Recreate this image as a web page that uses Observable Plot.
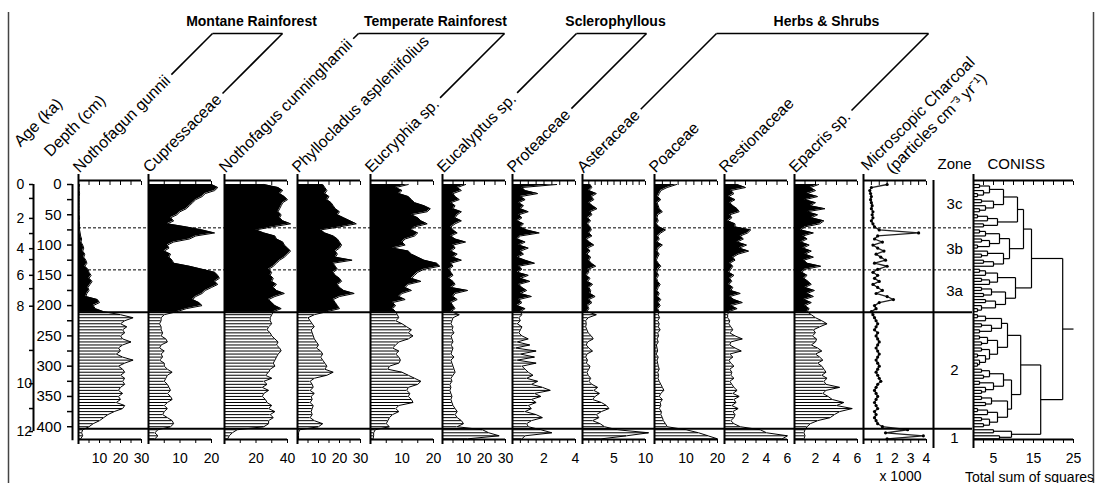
<!DOCTYPE html>
<html>
<head>
<meta charset="utf-8">
<script src="https://cdn.jsdelivr.net/npm/d3@7"></script>
<script src="https://cdn.jsdelivr.net/npm/@observablehq/plot@0.6"></script>
<style>
  html, body { margin: 0; padding: 0; background: #fff; overflow: hidden; }
  #fig { position: relative; width: 1096px; height: 483px; overflow: hidden; background: #fff; }
  #fig svg { position: absolute; top: 0; overflow: visible; }
</style>
</head>
<body>
<div id="fig"></div>
<script>
// ---------------- DATA ----------------
const depths = [0,5,10,15,20,25,30,35,40,45,50,55,60,65,70,75,80,85,90,95,100,105,110,115,120,125,130,135,140,145,150,155,160,165,170,175,180,185,190,195,200,205,210,215,220,225,230,235,240,245,250,255,260,265,270,275,280,285,290,295,300,305,310,315,320,325,330,335,340,345,350,355,360,365,370,375,380,385,390,395,400,405,410,415,420];

const nothofagusGunnii = [0.5,0.3,0.3,0.5,0.3,0.3,0.3,0.3,0.3,0.3, 0.3,0.5,0.3,0.5,0.5,0.5,0.8,1,1.5,1.2, 2,2.5,2,3,2.5,3.5,4,3,4.5,5, 6,5,6.5,5.5,4.5,5,4,3.5,9,10, 7,8,12,20,26,22,20,23,21,22, 20,21,25,21,19,20,18,21,26,22, 19,21,22,20,22,21,22,20,19,21, 19,20,18,22,21,17,14,12,10,7, 5,2,1.5,2,1];
const cupressaceae = [20,22,21,18,17,15,14,13,12,10, 9,7,8,6,12,17,21,15,13,8, 6,6.5,5,7,6.5,7.5,8,13,17,21, 22,22.5,21,22,20,18,17,15,14,16, 17,12,9,5,4,4,3.5,4,4,4.5, 4,5.5,6,4,3.5,5,4,4.5,3.5,5, 5,6,7.5,6,5.5,5,6,6.5,7,6, 7,7.5,6,5,6,5,4.5,6,7.5,8, 7,3,2,3,2];
const nothofagusCunninghamii = [25,34,37,35,38,40,37,36,35,34, 36,35,37,42,30,20,25,32,33,37, 38,40,42,40,38,35,33,31,28,30, 29,31,30,33,31,33,38,32,28,30, 32,36,31,30,29,29,30,28,27,29, 30,32,34,33,35,36,34,33,32,31, 32,29,28,26,30,25,27,24,28,25, 24,26,27,30,28,32,29,31,28,28, 25,8,5,3,2];
const phyllocladus = [12,13,14,13,15,14,16,17,18,20, 19,22,25,28,20,11,13,17,19,20, 21,20,18,19,18,26,17,18,19,17, 18,20,21,19,20,22,27,20,17,18, 19,20,14,8,5,6,7,8,6.5,7, 7.5,8,9,10,9,11,12,11,12,13, 14,13,17,14,8,6,7,7.5,6,8, 6.5,7,6,7.5,7,6.5,7,6,8,12, 10,1,0.5,0.5,0.5];
const eucryphia = [12,8,10,9,12,13,14,17,19,18, 13,15,16,18,14,13,15,14,11,10, 11,7,12,13,15,17,21,22,17,15, 14,13,16,12,11,13,10,9,11,7, 8,7,8,8.5,9,8,10,11.5,13,12, 13.5,12,9,8,7,9,8,9,9.5,9, 6,5.5,10,12,14,16,15,12,11.5,12.5, 12,13,13.5,9,8,9,7,6,5.5,5, 6,1.5,1,1,0.8];
const eucalyptus = [11,7,9,5,6,8,4,6,5,9, 7,6,9,6,4,5,7,4,6,11, 5,6,4,7,5,9,4,5,3,4, 5,3,5,6,4,12,6,5,7,4, 5,6,4,8,5,4.5,4,5,4.5,5.5, 4,4.5,5,4,5,4.5,4,5.5,4,4.5, 5,5.5,6,5,4,4.5,3.5,4,3.5,4, 4.5,4,4.5,5,6,7,6,7,9,10, 7,19,22,27,12];
const proteaceae = [2.8,0.6,0.8,1.6,0.5,0.8,0.4,0.7,0.5,1.0, 0.4,0.6,0.3,0.7,0.5,0.9,1.7,0.5,0.3,0.8, 0.4,1.0,0.5,0.7,0.3,0.8,1.4,0.4,0.6,0.3, 1.0,0.5,1.1,0.4,0.6,0.9,0.5,1.2,0.4,0.6, 0.3,0.8,0.5,0.6,0.4,0.5,0.3,0.6,0.5,0.4, 0.6,1.0,0.3,1.1,0.2,1.5,0.5,1.4,0.3,1.5, 0.6,0.8,1.0,1.3,0.9,1.6,1.2,1.9,2.4,1.4, 1.8,1.2,1.5,1.0,1.2,0.8,1.5,1.9,1.2,0.9, 1.0,1.8,2.5,0.8,0.6];
const asteraceae = [1.2,1.5,1.0,2.2,1.4,1.8,1.0,1.6,2.3,1.2, 1.5,0.8,1.3,0.8,1.2,1.4,1.0,1.5,0.6,1.1, 1.8,0.8,1.2,0.7,1.3,1.0,1.4,2.1,0.9,1.0, 0.6,1.2,0.8,1.6,1.0,1.3,1.2,2.0,1.0,1.5, 0.8,1.0,0.7,2.2,0.9,0.5,0.6,0.5,0.7,0.9, 1.4,1.7,0.8,0.6,1.0,1.6,0.7,0.5,0.8,0.6, 1.2,1.0,0.7,0.9,1.3,1.0,1.5,2.4,1.8,2.7, 2.0,1.6,3.0,3.8,4.2,3.0,2.2,2.6,1.6,2.8, 3.5,5.5,10.5,7,3];
const poaceae = [7,4,2,1.5,1,2,0.8,1.2,1.5,2.5, 1,0.8,1.2,0.6,1.5,3.5,2,1,1.5,0.8, 2.5,1.2,0.8,1.5,1.0,0.6,1.2,2.0,1.0,0.8, 1.3,0.7,1.0,1.8,1.2,0.8,1.5,1.0,2.0,1.2, 1.8,1.0,1.5,1.2,1.6,1.0,1.5,1.2,1.8,1.0, 1.3,0.8,1.2,0.6,0.8,1.0,0.5,1.2,0.8,1.0, 1.2,1.5,1.0,1.3,1.1,1.5,2.0,2.5,3.0,2.0, 1.5,2.5,1.8,2.0,1.5,2.2,2.0,2.5,2.8,3.5, 4,10,14,17,20];
const restionaceae = [1.2,2.0,0.6,0.9,0.4,1.0,0.5,0.8,1.2,1.4, 0.5,0.7,0.3,1.0,1.0,2.5,2.2,1.5,1.8,1.2, 2.1,1.4,2.3,1.3,0.8,1.0,0.5,0.8,0.6,0.4, 0.9,0.5,0.7,0.4,0.8,0.6,1.5,0.5,0.9,1.7, 0.6,1.2,0.4,0.3,0.3,0.5,0.4,0.6,0.8,0.5, 1.0,1.7,0.6,0.5,1.0,1.6,0.5,0.8,0.4,0.6, 0.9,0.5,0.7,0.6,0.9,0.5,0.7,0.9,1.2,0.8, 1.4,0.9,1.1,0.7,1.3,0.8,1.0,0.9,0.6,0.9, 1.5,3.4,4.0,6.0,5.5];
const epacris = [2.3,1.5,2.0,1.2,2.2,1.0,2.0,1.5,2.9,1.2, 2.2,1.6,2.8,2.4,1.0,0.6,1.8,0.8,1.2,0.6, 1.4,0.8,1.6,1.0,1.8,0.9,1.2,2.5,1.0,0.7, 1.2,0.9,1.3,1.6,1.0,1.9,1.2,1.8,0.9,1.6, 1.0,1.4,1.2,1.6,2.0,2.6,3.1,2.4,1.8,2.0, 1.7,2.1,2.0,1.6,2.2,2.6,2.0,2.4,2.7,2.2, 2.6,2.8,3.0,2.6,3.1,2.8,3.0,4.3,3.0,2.7, 3.2,3.6,4.7,4.0,5.5,4.3,3.8,3.4,2.2,1.5, 1.2,1.0,0.9,1.0,0.9];
// Microscopic charcoal (x 1000 particles cm-3 yr-1)
const charcoal = [1.5,0.5,0.4,0.45,0.5,0.45,0.5,0.55,0.5,0.6, 0.55,0.6,0.5,0.6,0.7,1.0,3.5,0.9,0.7,1.2, 0.6,0.9,1.3,0.8,1.1,1.4,0.7,1.5,0.9,0.6, 0.9,0.7,1.0,0.6,0.9,1.2,0.8,1.5,1.9,1.0, 0.7,0.8,0.5,0.6,0.7,0.8,0.9,0.8,0.7,0.9, 0.8,0.9,1.0,0.9,0.8,0.9,1.0,0.9,0.8,0.9, 1.0,0.9,0.8,0.9,1.0,1.1,0.9,0.8,0.7,0.8, 0.9,0.8,0.7,0.8,0.9,0.7,0.8,0.7,0.8,0.9, 1.2,2.8,1.4,3.8,1.5];

const taxaNames = ["Nothofagun gunnii","Cupressaceae","Nothofagus cunninghamii","Phyllocladus aspleniifolius","Eucryphia sp.","Eucalyptus sp.","Proteaceae","Asteraceae","Poaceae","Restionaceae","Epacris sp."];
const taxaValues = [nothofagusGunnii, cupressaceae, nothofagusCunninghamii, phyllocladus, eucryphia, eucalyptus, proteaceae, asteraceae, poaceae, restionaceae, epacris];
const taxaMax = [30,20,40,30,20,30,4,10,20,6,6];
const taxaTickLabels = [[10,20,30],[10,20],[20,40],[10,20,30],[10,20],[10,20,30],[2,4],[5,10],[10,20],[2,4,6],[2,4,6]];
const taxaMinorStep = [5,5,10,5,5,5,0.5,1,2.5,1,1];

const charcoalMax = 4;
const charcoalTickLabels = [1,2,3,4];

const groupNames = ["Montane Rainforest","Temperate Rainforest","Sclerophyllous","Herbs & Shrubs"];
const groupFirst = [0,2,5,7];
const groupLast = [1,4,6,10];

const zoneNames = ["3c","3b","3a","2","1"];
const zoneBoundaries = [71.6, 141, 211, 403.5];
const zoneBoundaryDashed = [true, true, false, false];

const ages = [0,1,2,3,4,5,6,7,8,9,10,11,12];
const ageDepths = [0,23,56,81,106,124,150,172,201,274,329,370,408];
const depthTickLabels = [0,50,100,150,200,250,300,350,400];
const depthMinorTicks = [0,25,50,75,100,125,150,175,200,225,250,275,300,325,350,375,400];

const conissMax = 25;
const conissTickLabels = [5,15,25];
// CONISS dendrogram: [total sum of squares at merge, child, child]; leaves are sample depths
const conissTree =
[22.3,
  [14.5,
    [12.5,
      [11,
        [7.5, [4, [1.5,0,5], [2.5,10,[1,15,20]]], [5, [2,25,30], [3,35,[1.5,40,45]]]],
        [6, [3.5,[1,50,55],60], [2.5,65,70]]
      ],
      [9,
        [6.5, [3,[1.5,75,80],85], [4,[2,90,95],[1,100,105]]],
        [7.5, [3.5,110,[2,115,120]], [5,[2.5,125,130],135]]
      ]
    ],
    [10.5,
      [6, [3,[1.5,140,145],150], [4,[2,155,160],165]],
      [8, [4.5,[2,170,175],[2.5,180,185]], [5.5,[3,190,195],[2,200,[1,205,210]]]]
    ]
  ],
  [16.8,
    [11.8,
      [8.5,
        [7, [3,[1,215,220],225], [4.5,[2,230,235],[1.5,240,245]]],
        [6, [3.5,[1.5,250,255],[2,260,265]], [4,[2,270,275],[3,[1,280,285],[1.5,290,[1,295,300]]]]]
      ],
      [9.5,
        [7.5, [4,[2,305,310],[2.5,315,320]], [5,[1.5,325,330],[3,335,[2,340,345]]]],
        [8.5, [4.5,[2,350,355],[3,360,365]], [6,[3.5,[1,370,375],380],[4,[2,385,390],[2.5,395,400]]]]
      ]
    ],
    [9.5, [5,405,410], [6.5,415,420]]
  ]
];

// ---------------- LAYOUT ----------------
const FONT = "'Liberation Sans', Arial, Helvetica, sans-serif";
const W = 1096, H = 483;
const FRAME_TOP = 180, FRAME_BOTTOM = 439;
const DEPTH_DOMAIN = [-6.6, 421.1];
const panelLeft = [78,148,224,297,370,442,512,582,654,724,794,863];
const panelWidth = 63;
const zoneLeft = 933, conissLeft = 973, conissWidth = 100;
const fig = document.getElementById("fig");

function add(svg, left) {
  svg.style.left = left + "px";
  svg.style.top = "0px";
  fig.appendChild(svg);
}
const yScale = () => ({domain: DEPTH_DOMAIN, reverse: true, axis: null});
const baseStyle = {fontFamily: FONT, fontSize: "14px", background: "transparent", overflow: "visible", color: "black"};

function frameMarks(max, step, labels, bottomExtend = 5) {
  const minor = d3.range(0, max + step / 2, step);
  return [
    Plot.ruleY([DEPTH_DOMAIN[0]], {stroke: "black", strokeWidth: 2}),
    Plot.ruleY([DEPTH_DOMAIN[1]], {stroke: "black", strokeWidth: 2}),
    Plot.ruleX([0], {stroke: "black", strokeWidth: 2, insetTop: -6, insetBottom: -bottomExtend}),
    Plot.axisX({ticks: minor, anchor: "top", tickSize: 4, dy: 4, tickFormat: () => "", label: null}),
    Plot.axisX({ticks: minor, anchor: "bottom", tickSize: 4, tickFormat: () => "", label: null}),
    Plot.axisX({ticks: labels, anchor: "bottom", tickSize: 0, tickPadding: 14, label: null, fontSize: 14, tickFormat: d => String(d)})
  ];
}

// ---------------- POLLEN PANELS ----------------
taxaNames.forEach((name, i) => {
  const rows = depths.map((d, j) => ({depth: d, value: taxaValues[i][j]}));
  const upper = rows.filter(r => r.depth <= 210);
  const lower = rows.filter(r => r.depth >= 210);
  const mL = 4, mR = 20;
  const svg = Plot.plot({
    width: panelWidth + mL + mR, height: H,
    marginLeft: mL, marginRight: mR, marginTop: FRAME_TOP, marginBottom: H - FRAME_BOTTOM,
    x: {domain: [0, taxaMax[i]]},
    y: yScale(),
    style: baseStyle,
    marks: [
      Plot.areaX(upper, {x: "value", y: "depth", fill: "black"}),
      Plot.ruleY(lower, {y: "depth", x1: 0, x2: "value", stroke: "black", strokeWidth: 1}),
      Plot.lineX(rows, {x: "value", y: "depth", stroke: "black", strokeWidth: 1}),
      ...frameMarks(taxaMax[i], taxaMinorStep[i], taxaTickLabels[i])
    ]
  });
  add(svg, panelLeft[i] - mL);
});

// ---------------- CHARCOAL ----------------
{
  const rows = depths.map((d, j) => ({depth: d, value: charcoal[j]}));
  const mL = 4, mR = 20;
  const svg = Plot.plot({
    width: panelWidth + mL + mR, height: H,
    marginLeft: mL, marginRight: mR, marginTop: FRAME_TOP, marginBottom: H - FRAME_BOTTOM,
    x: {domain: [0, charcoalMax]},
    y: yScale(),
    style: baseStyle,
    marks: [
      Plot.lineX(rows, {x: "value", y: "depth", stroke: "#222", strokeWidth: 1.3}),
      Plot.dot(rows, {x: "value", y: "depth", r: 1.6, fill: "black"}),
      ...frameMarks(charcoalMax, 0.5, charcoalTickLabels)
    ]
  });
  add(svg, panelLeft[11] - mL);
}

// ---------------- ZONE COLUMN ----------------
{
  const edges = [DEPTH_DOMAIN[0], ...zoneBoundaries, 436];
  const zoneRows = zoneNames.map((z, i) => ({zone: z, mid: (edges[i] + edges[i + 1]) / 2}));
  const svg = Plot.plot({
    width: 41, height: H,
    marginLeft: 1, marginRight: 0, marginTop: FRAME_TOP, marginBottom: H - FRAME_BOTTOM,
    x: {domain: [0, 1], axis: null},
    y: yScale(),
    style: baseStyle,
    marks: [
      Plot.ruleX([0], {stroke: "black", strokeWidth: 2, insetBottom: -9}),
      Plot.text(zoneRows, {x: 0.5, y: "mid", text: "zone", fontSize: 15, dx: 1})
    ]
  });
  add(svg, zoneLeft - 1);
}

// ---------------- CONISS ----------------
{
  const segs = [];
  function layout(node) {
    if (typeof node === "number") return {y: node, h: 0};
    const [h, a, b] = node;
    const A = layout(a), B = layout(b);
    segs.push({x1: A.h, x2: h, y1: A.y, y2: A.y});
    segs.push({x1: B.h, x2: h, y1: B.y, y2: B.y});
    segs.push({x1: h, x2: h, y1: A.y, y2: B.y});
    return {y: (A.y + B.y) / 2, h};
  }
  const root = layout(conissTree);
  segs.push({x1: root.h, x2: conissMax, y1: root.y, y2: root.y});
  const mL = 4, mR = 20;
  const svg = Plot.plot({
    width: conissWidth + mL + mR, height: H,
    marginLeft: mL, marginRight: mR, marginTop: FRAME_TOP, marginBottom: H - FRAME_BOTTOM,
    x: {domain: [0, conissMax]},
    y: yScale(),
    style: baseStyle,
    marks: [
      Plot.link(segs, {x1: "x1", y1: "y1", x2: "x2", y2: "y2", stroke: "black", strokeWidth: 1.2}),
      ...frameMarks(conissMax, 2.5, conissTickLabels, 9)
    ]
  });
  add(svg, conissLeft - mL);
}

// ---------------- ZONE BOUNDARY LINES ----------------
{
  const rows = zoneBoundaries.map((d, i) => ({depth: d, dashed: zoneBoundaryDashed[i]}));
  const svg = Plot.plot({
    width: conissLeft - 1 - panelLeft[0], height: H,
    marginLeft: 0, marginRight: 0, marginTop: FRAME_TOP, marginBottom: H - FRAME_BOTTOM,
    x: {domain: [0, 1], axis: null},
    y: yScale(),
    style: baseStyle,
    marks: [
      Plot.ruleY(rows.filter(r => !r.dashed), {y: "depth", stroke: "black", strokeWidth: 2}),
      Plot.ruleY(rows.filter(r => r.dashed), {y: "depth", stroke: "black", strokeWidth: 1, strokeDasharray: "3,2"})
    ]
  });
  add(svg, panelLeft[0]);
}

// ---------------- AGE & DEPTH AXES ----------------
{
  const ageRows = ages.map((a, i) => ({age: a, depth: ageDepths[i]}));
  const svg = Plot.plot({
    width: 76, height: H,
    marginLeft: 0, marginRight: 0, marginTop: FRAME_TOP, marginBottom: H - FRAME_BOTTOM,
    x: {type: "identity", axis: null},
    y: yScale(),
    style: {...baseStyle, fontSize: "15px"},
    marks: [
      Plot.ruleX([33], {y1: 0, y2: ageDepths[ageDepths.length - 1], stroke: "black", strokeWidth: 2}),
      Plot.ruleY(ageRows, {y: "depth", x1: 29, x2: 33, stroke: "black", strokeWidth: 1.5}),
      Plot.text(ageRows.filter(r => r.age % 2 === 0), {x: 16, y: "depth", text: "age", textAnchor: "start", fontSize: 14}),
      Plot.ruleX([72], {y1: 0, y2: 423, stroke: "black", strokeWidth: 2}),
      Plot.ruleY(depthMinorTicks, {y: d => d, x1: 67, x2: 72, stroke: "black", strokeWidth: 1.5}),
      Plot.text(depthTickLabels, {x: 61, y: d => d, text: d => d, textAnchor: "end", fontSize: 15})
    ]
  });
  add(svg, 0);
}

// ---------------- HEADERS & BRACKETS ----------------
{
  const ctx = document.createElement("canvas").getContext("2d");
  const tw = (s, size, weight = "normal") => { ctx.font = `${weight} ${size}px ${FONT}`; return ctx.measureText(s).width; };
  const S = Math.SQRT1_2;
  const LABEL_Y = 173, BR_Y = 33;
  const labels = taxaNames.map((name, i) => ({name, x: panelLeft[i] + 1, y: LABEL_Y}));
  labels.push({name: "Age (ka)", x: 20, y: 147});
  labels.push({name: "Depth (cm)", x: 50, y: 157});
  labels.push({name: "Microscopic Charcoal", x: 867, y: 171});
  labels.push({name: "(particles cm\u207B\u00B3 yr\u207B\u00B9)", x: 892, y: 174});

  const segs = [];
  const groupRows = [];
  const labelEnd = (i) => {
    const w = tw(taxaNames[i], 16) + 5;
    return [labels[i].x + w * S - 3.5, labels[i].y - w * S - 3.5];
  };
  groupNames.forEach((g, k) => {
    const [lx, ly] = labelEnd(groupFirst[k]);
    const [rx, ry] = labelEnd(groupLast[k]);
    const ltx = lx + (ly - BR_Y), rtx = rx + (ry - BR_Y);
    segs.push({x1: lx, y1: ly, x2: ltx, y2: BR_Y});
    segs.push({x1: ltx, y1: BR_Y, x2: rtx, y2: BR_Y});
    segs.push({x1: rtx, y1: BR_Y, x2: rx, y2: ry});
    groupRows.push({name: g, x: (ltx + rtx) / 2 + 4, y: 25});
  });

  const svg = Plot.plot({
    width: W, height: H, margin: 0,
    x: {type: "identity", axis: null},
    y: {type: "identity", axis: null},
    style: {...baseStyle, fontSize: "16px"},
    marks: [
      Plot.ruleX([8, 1093], {y1: 12, y2: H, stroke: "#444", strokeWidth: 1.5}),
      Plot.text(labels, {x: "x", y: "y", text: "name", rotate: -45, textAnchor: "start", lineAnchor: "bottom", fontSize: 16}),
      Plot.link(segs, {x1: "x1", y1: "y1", x2: "x2", y2: "y2", stroke: "black", strokeWidth: 1.6}),
      Plot.text(groupRows, {x: "x", y: "y", text: "name", textAnchor: "middle", lineAnchor: "bottom", fontSize: 14, fontWeight: "bold"}),
      Plot.text(["Zone"], {x: 937, y: 168, text: d => d, textAnchor: "start", lineAnchor: "bottom", fontSize: 15}),
      Plot.text(["CONISS"], {x: 987, y: 168, text: d => d, textAnchor: "start", lineAnchor: "bottom", fontSize: 15}),
      Plot.text(["x 1000"], {x: 900, y: 480, text: d => d, textAnchor: "middle", lineAnchor: "bottom", fontSize: 14}),
      Plot.text(["Total sum of squares"], {x: 1029, y: 481, text: d => d, textAnchor: "middle", lineAnchor: "bottom", fontSize: 14})
    ]
  });
  add(svg, 0);
}
</script>
</body>
</html>
